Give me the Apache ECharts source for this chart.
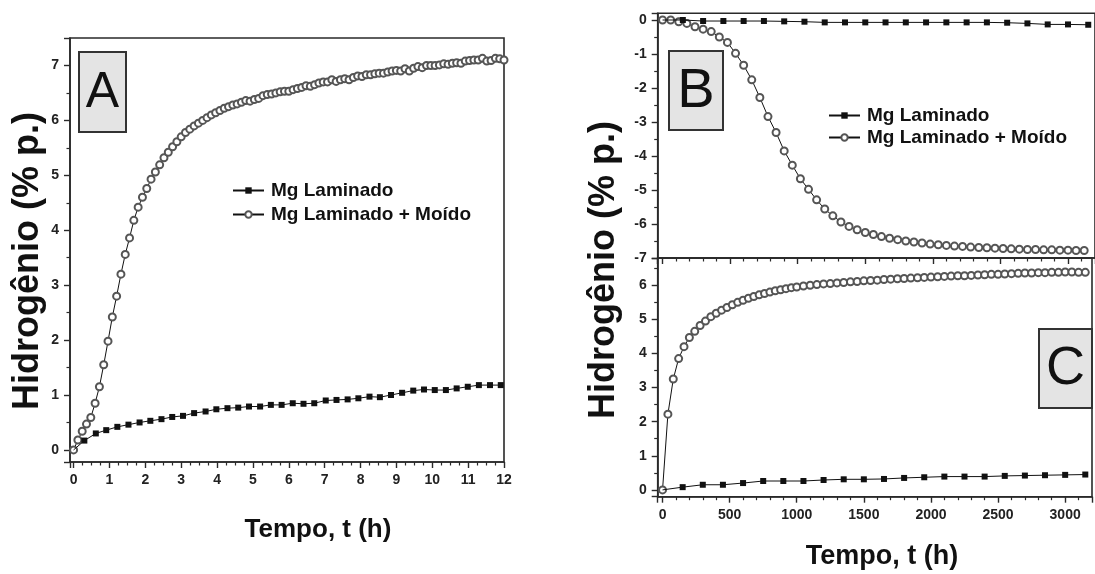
<!DOCTYPE html>
<html>
<head>
<meta charset="utf-8">
<script src="https://cdn.jsdelivr.net/npm/echarts@6/dist/echarts.min.js"></script>
<style>html,body{margin:0;padding:0;background:#fff}#c{width:1095px;height:574px}</style>
</head>
<body>
<div id="c"></div>
<script>
// ---------- Data ----------
const seriesNames = ['Mg Laminado', 'Mg Laminado + Moído'];

// Panel A (time in h)
const tA_lam = [0,0.3,0.62,0.91,1.22,1.53,1.84,2.14,2.45,2.75,3.05,3.36,3.68,3.98,4.29,4.59,4.89,5.2,5.5,5.8,6.11,6.41,6.71,7.03,7.33,7.64,7.94,8.25,8.54,8.85,9.16,9.47,9.77,10.07,10.38,10.68,10.99,11.3,11.61,11.91];
const yA_lam = [0,0.17,0.3,0.36,0.42,0.46,0.5,0.53,0.56,0.6,0.62,0.67,0.7,0.74,0.76,0.77,0.79,0.79,0.82,0.82,0.85,0.84,0.85,0.9,0.91,0.92,0.94,0.97,0.96,1.0,1.04,1.08,1.1,1.09,1.09,1.12,1.15,1.18,1.18,1.18];
const tA_moi = [0,0.12,0.24,0.36,0.48,0.6,0.72,0.84,0.96,1.08,1.2,1.32,1.44,1.56,1.68,1.8,1.92,2.04,2.16,2.28,2.4,2.52,2.64,2.76,2.88,3.0,3.12,3.24,3.36,3.48,3.6,3.72,3.84,3.96,4.08,4.2,4.32,4.44,4.56,4.68,4.8,4.92,5.04,5.16,5.28,5.4,5.52,5.64,5.76,5.88,6.0,6.12,6.24,6.36,6.48,6.6,6.72,6.84,6.96,7.08,7.2,7.32,7.44,7.56,7.68,7.8,7.92,8.04,8.16,8.28,8.4,8.52,8.64,8.76,8.88,9.0,9.12,9.24,9.36,9.48,9.6,9.72,9.84,9.96,10.08,10.2,10.32,10.44,10.56,10.68,10.8,10.92,11.04,11.16,11.28,11.4,11.52,11.64,11.76,11.88,12.0];
const yA_moi = [0,0.18,0.34,0.47,0.59,0.85,1.15,1.55,1.98,2.42,2.8,3.2,3.56,3.86,4.18,4.42,4.6,4.76,4.93,5.06,5.19,5.32,5.42,5.52,5.61,5.7,5.78,5.84,5.9,5.95,6.0,6.05,6.1,6.14,6.18,6.22,6.25,6.28,6.3,6.33,6.36,6.35,6.38,6.4,6.45,6.47,6.48,6.5,6.52,6.53,6.53,6.56,6.58,6.6,6.63,6.62,6.65,6.68,6.7,6.7,6.74,6.71,6.74,6.76,6.74,6.78,6.81,6.8,6.83,6.83,6.85,6.86,6.86,6.88,6.9,6.91,6.9,6.94,6.9,6.95,6.98,6.96,7.0,7.0,7.0,7.01,7.03,7.02,7.04,7.05,7.04,7.08,7.09,7.1,7.1,7.13,7.08,7.09,7.13,7.12,7.1];

// Panel B (time in h)
const tB_lam = [0,150,300,450,600,750,900,1050,1200,1350,1500,1650,1800,1950,2100,2250,2400,2550,2700,2850,3000,3150];
const yB_lam = [0,0,-0.03,-0.03,-0.03,-0.03,-0.04,-0.05,-0.07,-0.07,-0.07,-0.07,-0.07,-0.07,-0.07,-0.07,-0.07,-0.08,-0.1,-0.13,-0.13,-0.14];
const tB_moi = [0,60,120,180,240,300,360,420,480,540,600,660,720,780,840,900,960,1020,1080,1140,1200,1260,1320,1380,1440,1500,1560,1620,1680,1740,1800,1860,1920,1980,2040,2100,2160,2220,2280,2340,2400,2460,2520,2580,2640,2700,2760,2820,2880,2940,3000,3060,3120];
const yB_moi = [0,0,-0.05,-0.1,-0.2,-0.27,-0.34,-0.5,-0.66,-0.98,-1.33,-1.76,-2.28,-2.84,-3.31,-3.85,-4.27,-4.67,-4.98,-5.29,-5.56,-5.76,-5.94,-6.07,-6.17,-6.25,-6.31,-6.37,-6.42,-6.46,-6.5,-6.53,-6.56,-6.59,-6.61,-6.63,-6.65,-6.66,-6.68,-6.69,-6.7,-6.71,-6.72,-6.73,-6.74,-6.75,-6.75,-6.76,-6.76,-6.77,-6.77,-6.78,-6.78];

// Panel C (time in h)
const tC_lam = [0,150,300,450,600,750,900,1050,1200,1350,1500,1650,1800,1950,2100,2250,2400,2550,2700,2850,3000,3150];
const yC_lam = [0,0.08,0.15,0.15,0.2,0.26,0.26,0.26,0.29,0.31,0.31,0.32,0.35,0.37,0.39,0.39,0.39,0.41,0.42,0.43,0.44,0.45];
const tC_moi = [0,40,80,120,160,200,240,280,320,360,400,440,480,520,560,600,640,680,720,760,800,840,880,920,960,1000,1050,1100,1150,1200,1250,1300,1350,1400,1450,1500,1550,1600,1650,1700,1750,1800,1850,1900,1950,2000,2050,2100,2150,2200,2250,2300,2350,2400,2450,2500,2550,2600,2650,2700,2750,2800,2850,2900,2950,3000,3050,3100,3150];
const yC_moi = [0,2.22,3.25,3.85,4.2,4.47,4.65,4.82,4.95,5.08,5.18,5.27,5.35,5.43,5.5,5.56,5.62,5.67,5.72,5.76,5.8,5.84,5.87,5.9,5.93,5.95,5.98,6.0,6.02,6.04,6.05,6.07,6.08,6.1,6.11,6.13,6.14,6.15,6.17,6.18,6.19,6.2,6.21,6.22,6.23,6.24,6.25,6.26,6.27,6.28,6.28,6.29,6.3,6.31,6.32,6.32,6.33,6.34,6.35,6.36,6.36,6.37,6.37,6.38,6.38,6.39,6.39,6.38,6.38];

// ---------- Chart ----------
const FONT = "'Liberation Sans', Arial, sans-serif";
const TICKFONT = "'Liberation Sans Narrow', 'Liberation Sans', Arial, sans-serif";
const AX = '#2a2a2a';

function zip(t, y, hideFirst) {
  return t.map((x, i) => (hideFirst && i === 0) ? { value: [x, y[i]], symbol: 'none' } : [x, y[i]]);
}
const intFmt = v => (Math.abs(v - Math.round(v)) < 1e-9 ? String(Math.round(v)) : '');
const fmt500 = v => (Math.abs(v % 500) < 1e-9 ? String(Math.round(v)) : '');

function xAxisBase(gridIndex, min, max, split, minorSplit, showLabel, fmt) {
  return {
    type: 'value', gridIndex, min, max, splitNumber: split,
    axisLine: { show: true, onZero: false, lineStyle: { color: AX, width: 1.6 } },
    axisTick: { show: true, length: 6, lineStyle: { color: AX, width: 1.4 } },
    minorTick: { show: true, splitNumber: minorSplit, length: 3.5, lineStyle: { color: AX, width: 1.2 } },
    splitLine: { show: false },
    axisLabel: { show: showLabel, formatter: fmt, margin: 11, color: '#222', fontWeight: 'bold', fontSize: 14, fontFamily: TICKFONT }
  };
}
function yAxisBase(gridIndex, min, max, split) {
  return {
    type: 'value', gridIndex, min, max, splitNumber: split,
    axisLine: { show: true, onZero: false, lineStyle: { color: AX, width: 1.6 } },
    axisTick: { show: true, length: 6, lineStyle: { color: AX, width: 1.4 } },
    minorTick: { show: true, splitNumber: 2, length: 3.5, lineStyle: { color: AX, width: 1.2 } },
    splitLine: { show: false },
    axisLabel: { formatter: intFmt, margin: 11, color: '#222', fontWeight: 'bold', fontSize: 14, fontFamily: TICKFONT }
  };
}
function lamSeries(xi, yi, data) {
  return {
    name: seriesNames[0], type: 'line', xAxisIndex: xi, yAxisIndex: yi, data,
    symbol: 'rect', symbolSize: 6, showAllSymbol: true, animation: false,
    lineStyle: { color: '#111', width: 1 }, itemStyle: { color: '#111' }, z: 3
  };
}
function moiSeries(xi, yi, data) {
  return {
    name: seriesNames[1], type: 'line', xAxisIndex: xi, yAxisIndex: yi, data,
    symbol: 'emptyCircle', symbolSize: 7, showAllSymbol: true, animation: false,
    lineStyle: { color: '#111', width: 1 }, itemStyle: { color: '#555', borderWidth: 1 }, z: 2
  };
}
function legendAt(left, top, gap) {
  return {
    left, top, orient: 'vertical', padding: 0, itemGap: gap, itemWidth: 31, itemHeight: 8,
    data: seriesNames, selectedMode: false,
    textStyle: { color: '#111', fontWeight: 'bold', fontSize: 19, fontFamily: FONT, padding: [0, 0, 0, 2] }
  };
}
function labelBox(x, y, w, h, letter, size) {
  return [
    { type: 'rect', shape: { x, y, width: w, height: h }, style: { fill: '#e4e4e4', stroke: '#333', lineWidth: 2 }, z: 10 },
    { type: 'text', x: x + w / 2, y: y + h / 2 + 1, style: { text: letter, font: size + 'px ' + FONT, fill: '#111', align: 'center', verticalAlign: 'middle' }, z: 11 }
  ];
}

const option = {
  backgroundColor: '#fff',
  animation: false,
  grid: [
    { left: 70, top: 38, width: 434, height: 424, show: true, borderColor: AX, borderWidth: 1.6, backgroundColor: 'transparent' },
    { left: 657.7, top: 13.2, width: 447.9, height: 244.8, show: true, borderColor: AX, borderWidth: 1.6, backgroundColor: 'transparent' },
    { left: 657.7, top: 258, width: 447.9, height: 238.7, show: true, borderColor: AX, borderWidth: 1.6, backgroundColor: 'transparent' }
  ],
  xAxis: [
    xAxisBase(0, -0.1, 12, 12, 4, true, intFmt),
    xAxisBase(1, -36, 3200, 6, 5, false, fmt500),
    xAxisBase(2, -36, 3200, 6, 5, true, fmt500)
  ],
  yAxis: [
    yAxisBase(0, -0.22, 7.5, 8),
    yAxisBase(1, -7, 0.2, 7),
    yAxisBase(2, -0.2, 6.8, 7)
  ],
  legend: [legendAt(232, 181, 5), legendAt(828, 106, 3)],
  series: [
    moiSeries(0, 0, zip(tA_moi, yA_moi, false)),
    lamSeries(0, 0, zip(tA_lam, yA_lam, true)),
    moiSeries(1, 1, zip(tB_moi, yB_moi, false)),
    lamSeries(1, 1, zip(tB_lam, yB_lam, true)),
    moiSeries(2, 2, zip(tC_moi, yC_moi, false)),
    lamSeries(2, 2, zip(tC_lam, yC_lam, true))
  ],
  graphic: [
    ...labelBox(79, 52, 47, 80, 'A', 50),
    ...labelBox(669, 51, 54, 79, 'B', 56),
    ...labelBox(1039, 329, 53, 79, 'C', 54),
    { type: 'text', x: 28, y: 261, rotation: Math.PI / 2, style: { text: 'Hidrogênio (% p.)', font: 'bold 36px ' + FONT, fill: '#111', align: 'center', verticalAlign: 'middle' } },
    { type: 'text', x: 604, y: 270, rotation: Math.PI / 2, style: { text: 'Hidrogênio (% p.)', font: 'bold 36px ' + FONT, fill: '#111', align: 'center', verticalAlign: 'middle' } },
    { type: 'text', x: 318, y: 530, style: { text: 'Tempo, t (h)', font: 'bold 26px ' + FONT, fill: '#111', align: 'center', verticalAlign: 'middle' } },
    { type: 'text', x: 882, y: 557, style: { text: 'Tempo, t (h)', font: 'bold 27px ' + FONT, fill: '#111', align: 'center', verticalAlign: 'middle' } }
  ]
};

const chart = echarts.init(document.getElementById('c'), null, { renderer: 'canvas' });
chart.setOption(option);
</script>
</body>
</html>
